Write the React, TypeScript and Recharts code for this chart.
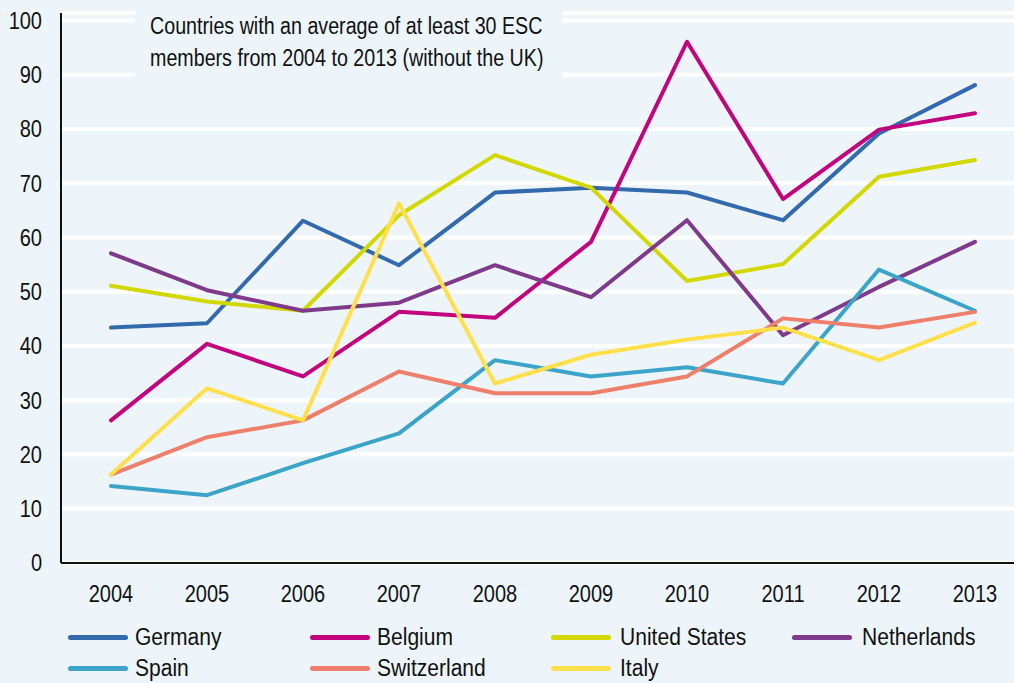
import { LineChart, Line, XAxis, YAxis, CartesianGrid } from 'recharts'

const years = ['2004', '2005', '2006', '2007', '2008', '2009', '2010', '2011', '2012', '2013']
const germany = [43.4, 44.2, 63.1, 54.9, 68.3, 69.2, 68.3, 63.2, 79.2, 88.1]
const belgium = [26.3, 40.4, 34.4, 46.3, 45.2, 59.2, 96.1, 67.1, 79.9, 82.9]
const unitedStates = [51.1, 48.2, 46.5, 64.1, 75.2, 69.2, 52, 55.1, 71.2, 74.3]
const netherlands = [57.1, 50.3, 46.5, 48, 54.9, 49, 63.2, 42, 50.9, 59.2]
const spain = [14.2, 12.5, 18.4, 23.9, 37.4, 34.4, 36.1, 33.1, 54.1, 46.5]
const switzerland = [16.3, 23.2, 26.3, 35.3, 31.3, 31.3, 34.4, 45.1, 43.4, 46.3]
const italy = [16.3, 32.2, 26.3, 66.3, 33.1, 38.4, 41.2, 43.4, 37.4, 44.3]
const yTicks = [0, 10, 20, 30, 40, 50, 60, 70, 80, 90, 100]

const series = [
  { key: 'Germany', values: germany, color: '#336aae' },
  { key: 'Belgium', values: belgium, color: '#c2047f' },
  { key: 'United States', values: unitedStates, color: '#d3d800' },
  { key: 'Netherlands', values: netherlands, color: '#7f3a8b' },
  { key: 'Spain', values: spain, color: '#3ca4c8' },
  { key: 'Switzerland', values: switzerland, color: '#ee7f6a' },
  { key: 'Italy', values: italy, color: '#ffe04b' },
]

const data = years.map((year, i) => {
  const row: { [k: string]: number | string } = { year }
  series.forEach(s => { row[s.key] = s.values[i] })
  return row
})

const BG = '#edf5fa'
const FONT = '"Liberation Sans", Arial, sans-serif'
const SX = 0.87

function YTick(props: any) {
  const { x, y, payload } = props
  return (
    <text transform={`translate(${x},${y}) scale(${SX},1)`} textAnchor="end" dy="0.36em"
      fontSize={23} fontFamily={FONT} fill="#111">
      {payload.value}
    </text>
  )
}

function XTick(props: any) {
  const { x, y, payload } = props
  return (
    <text transform={`translate(${x},${y}) scale(${SX},1)`} textAnchor="middle" dy="0.72em"
      fontSize={23} fontFamily={FONT} fill="#111">
      {payload.value}
    </text>
  )
}

// legend columns: swatch left, text left
const swatchLeft = [68, 310, 551, 792]
const labelLeft = [135, 377, 620, 862]

export default function App() {
  return (
    <div style={{ position: 'fixed', left: 0, top: 0, width: 1014, height: 683, overflow: 'hidden', background: BG }}>
      <LineChart width={1040} height={683} data={data} margin={{ top: 13, right: 19, bottom: 80, left: 0 }}>
        <CartesianGrid vertical={false} stroke="#ffffff" strokeWidth={4} />
        <XAxis
          dataKey="year"
          height={40}
          padding={{ left: 50, right: 46 }}
          tick={<XTick />}
          tickLine={false}
          tickSize={0}
          tickMargin={22}
          axisLine={{ stroke: '#111', strokeWidth: 2 }}
          interval={0}
        />
        <YAxis
          width={61}
          domain={[0, 101.4]}
          ticks={yTicks}
          tick={<YTick />}
          tickLine={false}
          tickSize={0}
          tickMargin={19}
          axisLine={{ stroke: '#111', strokeWidth: 2 }}
        />
        {series.map(s => (
          <Line
            key={s.key}
            type="linear"
            dataKey={s.key}
            stroke={s.color}
            strokeWidth={4}
            strokeLinecap="round"
            strokeLinejoin="round"
            dot={false}
            activeDot={false}
            isAnimationActive={false}
          />
        ))}
      </LineChart>

      <div style={{ position: 'absolute', left: 135, top: 0, width: 427, height: 80, background: BG }}>
        <div style={{
          position: 'absolute', left: 15, top: 11, fontFamily: FONT, fontSize: 23, lineHeight: '31.5px',
          color: '#111', whiteSpace: 'nowrap', transform: 'scaleX(0.855)', transformOrigin: 'left top',
        }}>
          <div>Countries with an average of at least 30 ESC</div>
          <div>members from 2004 to 2013 (without the UK)</div>
        </div>
      </div>

      {series.map((s, i) => {
        const col = i % 4
        const cy = i < 4 ? 637 : 668
        return (
          <div key={s.key}>
            <div style={{ position: 'absolute', left: swatchLeft[col], top: cy - 2.5, width: 60, height: 5, borderRadius: 3, background: s.color }} />
            <div style={{
              position: 'absolute', left: labelLeft[col], top: cy - 14, fontFamily: FONT, fontSize: 23, lineHeight: '28px',
              color: '#111', whiteSpace: 'nowrap', transform: 'scaleX(0.915)', transformOrigin: 'left center',
            }}>
              {s.key}
            </div>
          </div>
        )
      })}
    </div>
  )
}
